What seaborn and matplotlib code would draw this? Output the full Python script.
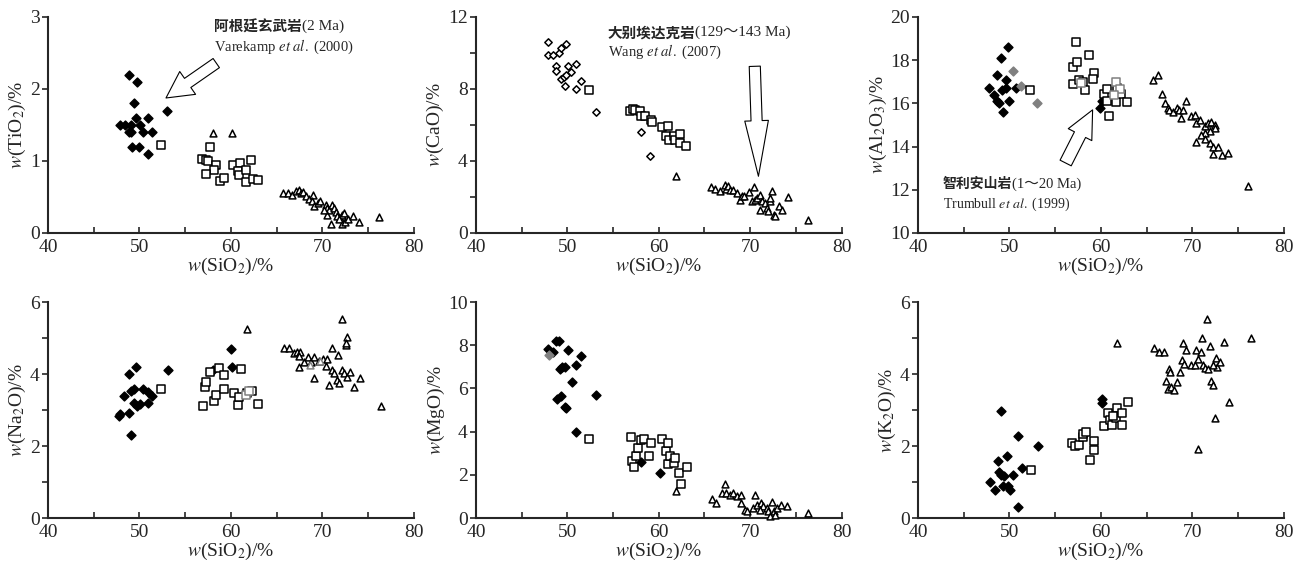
import pandas as pd
import matplotlib.pyplot as plt
import seaborn as sns
from matplotlib.ticker import MultipleLocator

# (SiO2, oxide) pairs
tio2_basalt = [(48.8, 2.2), (49.7, 2.1), (49.4, 1.8), (53.05, 1.69), (47.85, 1.5), (48.4, 1.5),
               (49.1, 1.5), (49.6, 1.6), (50.9, 1.6), (50.1, 1.5), (48.9, 1.4), (49.05, 1.4),
               (50.4, 1.4), (51.4, 1.4), (49.2, 1.2), (49.9, 1.2), (50.9, 1.1)]
tio2_andesite = [(52.4, 1.22), (57.7, 1.2), (56.8, 1.03), (57.3, 1.02), (57.5, 1.0), (58.4, 0.94),
                 (58.1, 0.87), (57.3, 0.82), (58.8, 0.72), (59.3, 0.77), (60.25, 0.94), (60.95, 0.97),
                 (60.8, 0.86), (60.9, 0.8), (61.7, 0.87), (62.2, 1.01), (61.7, 0.71), (62.4, 0.75),
                 (63.0, 0.74)]
tio2_adakite = [(58.0, 1.39), (60.1, 1.39), (65.7, 0.56), (66.3, 0.56), (66.7, 0.53), (67.1, 0.58),
                (67.45, 0.59), (67.7, 0.56), (67.9, 0.57), (68.2, 0.51), (68.5, 0.47), (69.0, 0.53),
                (68.9, 0.45), (69.1, 0.38), (69.5, 0.42), (69.8, 0.44), (70.4, 0.39), (70.5, 0.35),
                (70.7, 0.32), (71.1, 0.39), (71.3, 0.35), (70.5, 0.25), (71.0, 0.13), (71.45, 0.29),
                (71.6, 0.23), (71.9, 0.21), (72.2, 0.25), (72.4, 0.28), (72.1, 0.13), (72.5, 0.15),
                (72.8, 0.19), (73.35, 0.23), (74.0, 0.15), (76.25, 0.22), (71.8, 0.19), (70.2, 0.32)]

cao_basalt = [(47.85, 10.6), (47.85, 9.9), (48.4, 9.87), (49.1, 10.0), (49.25, 10.3), (49.9, 10.5),
              (48.8, 9.3), (48.8, 9.0), (49.25, 8.57), (49.6, 8.67), (49.9, 8.8), (50.1, 9.26),
              (50.35, 8.93), (50.9, 9.39), (49.7, 8.19), (50.9, 8.0), (51.45, 8.43), (53.1, 6.7),
              (58.0, 5.59), (59.05, 4.3)]
cao_andesite = [(52.4, 7.93), (56.9, 6.8), (57.15, 6.9), (57.4, 6.85), (57.9, 6.76), (58.1, 6.5),
                (58.5, 6.48), (59.15, 6.3), (59.3, 6.17), (60.3, 5.9), (61.0, 5.93), (60.8, 5.37),
                (61.1, 5.19), (61.7, 5.4), (61.8, 5.19), (62.3, 5.5), (62.3, 5.0), (63.0, 4.85)]
cao_adakite = [(61.9, 3.19), (65.76, 2.56), (66.2, 2.46), (66.7, 2.31), (67.2, 2.69), (67.3, 2.44),
               (67.6, 2.6), (67.8, 2.37), (68.15, 2.37), (68.6, 2.22), (68.9, 1.85), (69.1, 2.04),
               (69.35, 2.04), (69.9, 2.26), (70.4, 2.56), (70.2, 1.76), (70.5, 1.85), (70.75, 1.94),
               (71.1, 2.13), (71.3, 1.76), (71.6, 1.67), (71.1, 1.3), (71.8, 1.39), (72.2, 1.76),
               (72.4, 2.31), (72.55, 1.02), (72.7, 0.93), (73.1, 1.48), (73.5, 1.3), (74.1, 2.0),
               (71.9, 1.2), (76.3, 0.7), (72.2, 1.94)]

al_basalt = [(47.8, 16.7), (48.3, 16.4), (48.6, 17.3), (49.1, 18.1), (48.6, 16.1), (48.9, 16.0),
             (49.35, 15.59), (49.2, 16.6), (49.6, 16.7), (49.6, 17.1), (49.8, 18.6), (49.9, 16.13),
             (50.75, 16.7), (59.9, 15.8), (60.1, 16.1)]
al_basalt_gray = [(50.35, 17.5), (51.3, 16.8), (53.0, 16.0)]
al_andesite = [(52.3, 16.6), (57.0, 16.9), (57.0, 17.7), (57.25, 18.85), (57.4, 17.9), (57.6, 17.1),
               (58.1, 17.0), (58.3, 16.6), (58.7, 18.25), (59.3, 17.4), (59.1, 17.15), (60.3, 16.45),
               (60.7, 16.67), (60.7, 16.1), (60.9, 15.4), (61.65, 16.05), (61.8, 16.7), (62.2, 16.45),
               (62.9, 16.07)]
al_andesite_gray = [(57.8, 16.95), (61.65, 17.0), (62.1, 16.68), (61.4, 16.4)]
al_adakite = [(65.7, 17.1), (66.2, 17.33), (66.7, 16.44), (66.97, 16.0), (67.3, 15.8), (67.5, 15.68),
              (67.9, 15.59), (68.3, 15.8), (68.6, 15.7), (68.98, 15.7), (69.35, 16.1), (68.8, 15.32),
              (69.9, 15.4), (70.3, 15.47), (70.45, 15.1), (70.8, 15.25), (71.4, 14.94), (71.7, 15.1),
              (72.1, 15.12), (72.5, 15.0), (72.5, 14.85), (71.9, 14.7), (71.4, 14.63), (71.0, 14.55),
              (71.4, 14.35), (70.4, 14.2), (71.9, 14.17), (72.3, 14.0), (72.3, 13.66), (72.85, 14.0),
              (73.3, 13.6), (73.95, 13.7), (76.1, 12.16)]

na_basalt = [(47.8, 2.82), (47.9, 2.89), (48.3, 3.39), (48.8, 4.0), (48.8, 2.91), (49.1, 2.31),
             (49.1, 3.53), (49.4, 3.58), (49.6, 4.2), (49.4, 3.19), (49.7, 3.11), (50.1, 3.16),
             (50.4, 3.58), (50.9, 3.5), (50.9, 3.19), (51.4, 3.39), (53.1, 4.1), (58.0, 4.11),
             (60.0, 4.7), (60.1, 4.2)]
na_andesite = [(52.4, 3.57), (56.9, 3.12), (57.15, 3.65), (57.3, 3.79), (57.7, 4.06), (58.1, 3.25),
               (58.4, 3.42), (58.7, 4.17), (59.3, 3.96), (59.3, 3.57), (60.3, 3.48), (60.8, 3.14),
               (60.9, 3.37), (61.1, 4.13), (61.8, 3.46), (62.3, 3.53), (63.0, 3.17)]
na_andesite_gray = [(61.7, 3.42), (62.0, 3.54)]
na_adakite = [(61.8, 5.24), (65.8, 4.71), (66.4, 4.71), (66.9, 4.57), (67.2, 4.62), (67.6, 4.62),
              (67.4, 4.5), (67.5, 4.2), (68.0, 4.34), (68.4, 4.48), (68.8, 4.34), (69.1, 4.48),
              (69.1, 3.9), (69.6, 4.37), (70.1, 4.43), (70.4, 4.22), (70.55, 4.43), (70.7, 3.69),
              (71.1, 4.71), (71.1, 4.11), (71.3, 4.02), (71.6, 3.83), (71.8, 3.76), (71.75, 4.54),
              (72.1, 4.11), (72.2, 5.54), (72.4, 4.02), (72.55, 4.8), (72.7, 5.03), (72.7, 3.92),
              (73.0, 4.06), (73.5, 3.65), (74.1, 3.9), (76.4, 3.11), (72.6, 4.87)]
na_adakite_gray = [(68.7, 4.25), (69.8, 4.37)]

mg_basalt = [(47.85, 7.82), (48.4, 7.7), (48.8, 8.2), (49.1, 8.2), (49.2, 6.88), (49.4, 6.97),
             (49.7, 6.97), (48.9, 5.49), (49.25, 5.65), (49.7, 5.15), (49.9, 5.08), (50.1, 7.8),
             (50.5, 6.3), (50.9, 7.1), (51.45, 7.5), (50.9, 4.0), (53.1, 5.69), (58.0, 2.58),
             (60.1, 2.1)]
mg_basalt_gray = [(47.96, 7.54)]
mg_andesite = [(52.4, 3.65), (56.95, 3.74), (57.1, 2.66), (57.3, 2.35), (57.5, 2.89), (57.7, 3.23),
               (58.05, 3.62), (58.4, 3.66), (58.9, 2.88), (59.2, 3.46), (60.3, 3.65), (60.8, 3.08),
               (61.05, 3.46), (61.05, 2.5), (61.2, 2.85), (61.7, 2.54), (61.8, 2.77), (62.2, 2.08),
               (62.4, 1.58), (63.05, 2.38)]
mg_adakite = [(61.9, 1.23), (65.8, 0.88), (66.3, 0.69), (66.9, 1.15), (67.2, 1.58), (67.4, 1.15),
              (67.8, 1.08), (68.15, 1.15), (68.6, 1.0), (68.95, 1.05), (68.95, 0.69), (69.4, 0.38),
              (69.7, 0.31), (70.3, 0.46), (70.5, 1.05), (70.7, 0.62), (71.2, 0.69), (71.45, 0.54),
              (71.8, 0.46), (71.95, 0.31), (72.2, 0.11), (72.4, 0.72), (72.55, 0.31), (72.9, 0.46),
              (73.4, 0.62), (74.0, 0.54), (76.3, 0.23), (71.1, 0.38), (72.7, 0.15)]

k_basalt = [(47.85, 0.99), (48.4, 0.78), (48.8, 1.59), (48.9, 1.29), (49.1, 1.2), (49.05, 2.98),
            (49.3, 0.9), (49.7, 1.71), (49.85, 0.88), (50.1, 0.78), (50.4, 1.2), (50.9, 2.29),
            (50.9, 0.3), (51.4, 1.4), (53.1, 2.0), (49.4, 1.18), (60.1, 3.19), (60.15, 3.31)]
k_andesite = [(52.4, 1.32), (56.9, 2.08), (57.2, 1.99), (57.6, 2.03), (58.0, 2.26), (58.1, 2.34),
              (58.4, 2.4), (58.8, 1.6), (59.2, 1.89), (59.3, 2.15), (60.4, 2.56), (60.8, 2.91),
              (61.0, 2.72), (61.2, 2.59), (61.7, 2.77), (61.8, 3.05), (62.3, 2.93), (62.3, 2.59),
              (63.0, 3.21), (61.35, 2.83)]
k_adakite = [(61.8, 4.85), (65.8, 4.73), (66.35, 4.62), (66.9, 4.6), (67.1, 3.81), (67.3, 3.58),
             (67.5, 4.13), (67.55, 4.06), (67.7, 3.65), (68.0, 3.55), (68.3, 3.79), (68.65, 4.06),
             (68.9, 4.39), (69.0, 4.85), (69.1, 4.28), (69.3, 4.68), (69.85, 4.25), (70.3, 4.25),
             (70.4, 4.68), (70.65, 4.43), (70.6, 1.91), (71.0, 4.62), (71.1, 4.99), (71.2, 4.25),
             (71.4, 4.18), (71.6, 5.54), (71.75, 4.13), (71.9, 4.78), (72.1, 3.81), (72.3, 3.69),
             (72.5, 2.77), (72.55, 4.45), (72.7, 4.2), (73.0, 4.34), (73.5, 4.89), (74.05, 3.21),
             (76.4, 5.0), (72.3, 4.25)]

# marker styles: (marker, face, edge, size)
STYLE = {
    'basalt': ('D', 'black', 'black', 20),
    'basalt_open': ('D', 'white', 'black', 14),
    'basalt_gray': ('D', 'gray', 'gray', 20),
    'andesite': ('s', 'white', 'black', 26),
    'andesite_gray': ('s', 'white', 'gray', 26),
    'adakite': ('^', 'white', 'black', 24),
    'adakite_gray': ('^', 'white', 'gray', 24),
}

sns.set_style('ticks')
plt.rcParams['font.family'] = ['Liberation Serif', 'Noto Sans CJK SC']
plt.rcParams['mathtext.fontset'] = 'stix'

fig = plt.figure(figsize=(12.99, 5.72), dpi=100)
lefts = [0.037, 0.3664, 0.7067]
bottoms = [0.5927, 0.0944]
w, h = 0.2815, 0.3776

panels = [
    ('TiO$_2$', (0, 3), 1, None, [('basalt', tio2_basalt), ('andesite', tio2_andesite), ('adakite', tio2_adakite)]),
    ('CaO', (0, 12), 4, 2, [('basalt_open', cao_basalt), ('andesite', cao_andesite), ('adakite', cao_adakite)]),
    ('Al$_2$O$_3$', (10, 20), 2, None, [('basalt', al_basalt), ('basalt_gray', al_basalt_gray),
                                          ('andesite', al_andesite), ('andesite_gray', al_andesite_gray),
                                          ('adakite', al_adakite)]),
    ('Na$_2$O', (0, 6), 2, 1, [('basalt', na_basalt), ('andesite', na_andesite), ('andesite_gray', na_andesite_gray),
                               ('adakite', na_adakite), ('adakite_gray', na_adakite_gray)]),
    ('MgO', (0, 10), 2, None, [('basalt', mg_basalt), ('basalt_gray', mg_basalt_gray),
                               ('andesite', mg_andesite), ('adakite', mg_adakite)]),
    ('K$_2$O', (0, 6), 2, 1, [('basalt', k_basalt), ('andesite', k_andesite), ('adakite', k_adakite)]),
]

axes = []
for i, (oxide, ylim, major, minor, groups) in enumerate(panels):
    ax = fig.add_axes([lefts[i % 3], bottoms[i // 3], w, h])
    axes.append(ax)
    for name, pts in groups:
        df = pd.DataFrame(pts, columns=['SiO2', 'oxide'])
        mk, fc, ec, s = STYLE[name]
        sns.scatterplot(data=df, x='SiO2', y='oxide', ax=ax, marker=mk, color=fc,
                        edgecolor=ec, s=s, linewidth=1.1, zorder=3, clip_on=False)
    ax.set_xlim(40, 80)
    ax.set_ylim(*ylim)
    ax.xaxis.set_major_locator(MultipleLocator(10))
    ax.xaxis.set_minor_locator(MultipleLocator(5))
    ax.yaxis.set_major_locator(MultipleLocator(major))
    if minor:
        ax.yaxis.set_minor_locator(MultipleLocator(minor))
    ax.tick_params(axis='x', which='both', direction='in', length=4, width=1.2, labelsize=14, pad=4)
    ax.tick_params(axis='y', which='both', direction='out', length=4, width=1.2, labelsize=14, pad=2)
    for sp in ['left', 'bottom']:
        ax.spines[sp].set_linewidth(1.5)
    sns.despine(ax=ax)
    ax.set_xlabel(r'$\mathit{w}$(SiO$_2$)/%', fontsize=14, labelpad=0)
    ax.set_ylabel(r'$\mathit{w}$(' + oxide + ')/%', fontsize=14, labelpad=1)

ax1, ax2, ax3 = axes[0], axes[1], axes[2]


def label(ax, x, y, cn, tail, ref, size):
    t = ax.text(x, y, cn, transform=ax.transAxes, fontsize=size, fontweight='bold',
                family='Noto Sans CJK SC', va='center')
    ax.annotate(tail, xy=(1, 0.5), xycoords=t, fontsize=size + 0.5, va='center')
    ax.text(x, y - 0.093, ref, transform=ax.transAxes, fontsize=size, va='center')


# annotations
label(ax1, 0.455, 0.955, '阿根廷玄武岩', '(2 Ma)', r'Varekamp $\mathit{et\ al.}$ (2000)', 10.5)
ax1.annotate('', xy=(52.9, 1.875), xytext=(58.4, 2.36),
             arrowprops=dict(arrowstyle='simple,head_length=1.9,head_width=2.0,tail_width=0.8',
                             fc='white', ec='black', lw=0.8, mutation_scale=10, shrinkA=0, shrinkB=0))

label(ax2, 0.36, 0.93, '大别埃达克岩', '(129～143 Ma)', r'Wang $\mathit{et\ al.}$ (2007)', 10.5)
ax2.annotate('', xy=(70.9, 3.15), xytext=(70.5, 9.26),
             arrowprops=dict(arrowstyle='simple,head_length=4.0,head_width=1.7,tail_width=0.8',
                             fc='white', ec='black', lw=0.8, mutation_scale=10, shrinkA=0, shrinkB=0))

label(ax3, 0.068, 0.227, '智利安山岩', '(1～20 Ma)', r'Trumbull $\mathit{et\ al.}$ (1999)', 10)
ax3.annotate('', xy=(59.1, 15.7), xytext=(56.15, 13.24),
             arrowprops=dict(arrowstyle='simple,head_length=2.0,head_width=1.9,tail_width=0.9',
                             fc='white', ec='black', lw=0.8, mutation_scale=10, shrinkA=0, shrinkB=0))

plt.savefig('out.png', dpi=100)
